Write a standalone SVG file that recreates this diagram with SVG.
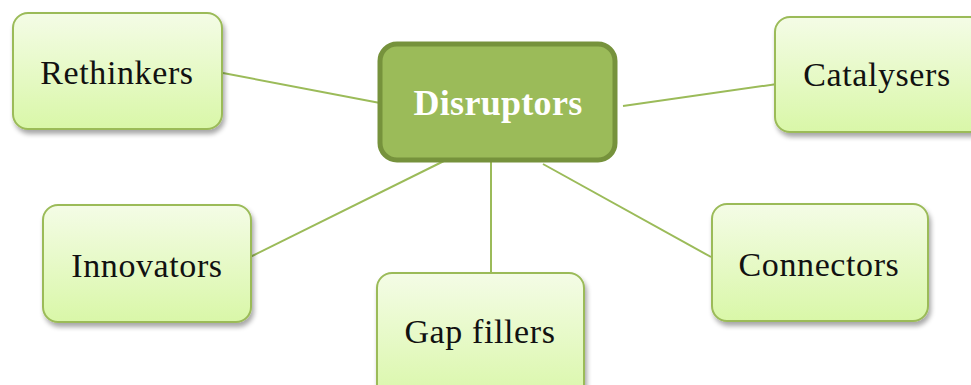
<svg xmlns="http://www.w3.org/2000/svg" width="971" height="385" viewBox="0 0 971 385">
  <defs>
    <linearGradient id="leafFill" x1="0" y1="0" x2="0" y2="1">
      <stop offset="0" stop-color="#f4fce6"/>
      <stop offset="1" stop-color="#d9f7a8"/>
    </linearGradient>
    <filter id="shadow" x="-10%" y="-10%" width="125%" height="130%">
      <feGaussianBlur in="SourceAlpha" stdDeviation="2.5"/>
      <feOffset dx="2" dy="4" result="b"/>
      <feComponentTransfer><feFuncA type="linear" slope="0.35"/></feComponentTransfer>
      <feMerge><feMergeNode/><feMergeNode in="SourceGraphic"/></feMerge>
    </filter>
  </defs>
  <style>
    .leaf { fill: url(#leafFill); stroke: #9bbb59; stroke-width: 2; filter: url(#shadow); }
    .hub { fill: #9bbb59; stroke: #76923c; stroke-width: 5; }
    .link { stroke: #9bbb59; stroke-width: 2; fill: none; }
    .label { font-family: "Liberation Serif", "DejaVu Serif", serif; font-size: 34px; fill: #111; text-anchor: middle; letter-spacing: 0.6px; }
    .hubLabel { font-family: "Liberation Serif", "DejaVu Serif", serif; font-size: 36px; font-weight: bold; fill: #ffffff; text-anchor: middle; letter-spacing: 0.3px; }
  </style>
  <rect width="971" height="385" fill="#ffffff"/>

  <!-- spokes from the hub to each role -->
  <g id="connectors">
    <line class="link" x1="223" y1="73" x2="380" y2="103"/>
    <line class="link" x1="623" y1="106" x2="777" y2="84"/>
    <line class="link" x1="250" y1="257" x2="452" y2="157"/>
    <line class="link" x1="543" y1="164" x2="711" y2="257"/>
    <line class="link" x1="491" y1="162" x2="491" y2="273"/>
  </g>

  <g id="rethinkers">
    <rect class="leaf" x="13" y="13" width="209" height="116" rx="15"/>
    <text class="label" x="117" y="84">Rethinkers</text>
  </g>

  <g id="catalysers">
    <rect class="leaf" x="775" y="17" width="215" height="115" rx="15"/>
    <text class="label" x="877" y="86">Catalysers</text>
  </g>

  <g id="innovators">
    <rect class="leaf" x="43" y="205" width="208" height="117" rx="15"/>
    <text class="label" x="147" y="277">Innovators</text>
  </g>

  <g id="gap-fillers">
    <rect class="leaf" x="377" y="273" width="207" height="130" rx="15"/>
    <text class="label" x="480" y="343">Gap fillers</text>
  </g>

  <g id="connectors-role">
    <rect class="leaf" x="712" y="204" width="216" height="117" rx="15"/>
    <text class="label" x="819" y="276">Connectors</text>
  </g>

  <g id="disruptors">
    <rect class="hub" x="380" y="44" width="235" height="116" rx="17"/>
    <text class="hubLabel" x="498" y="115">Disruptors</text>
  </g>
</svg>
